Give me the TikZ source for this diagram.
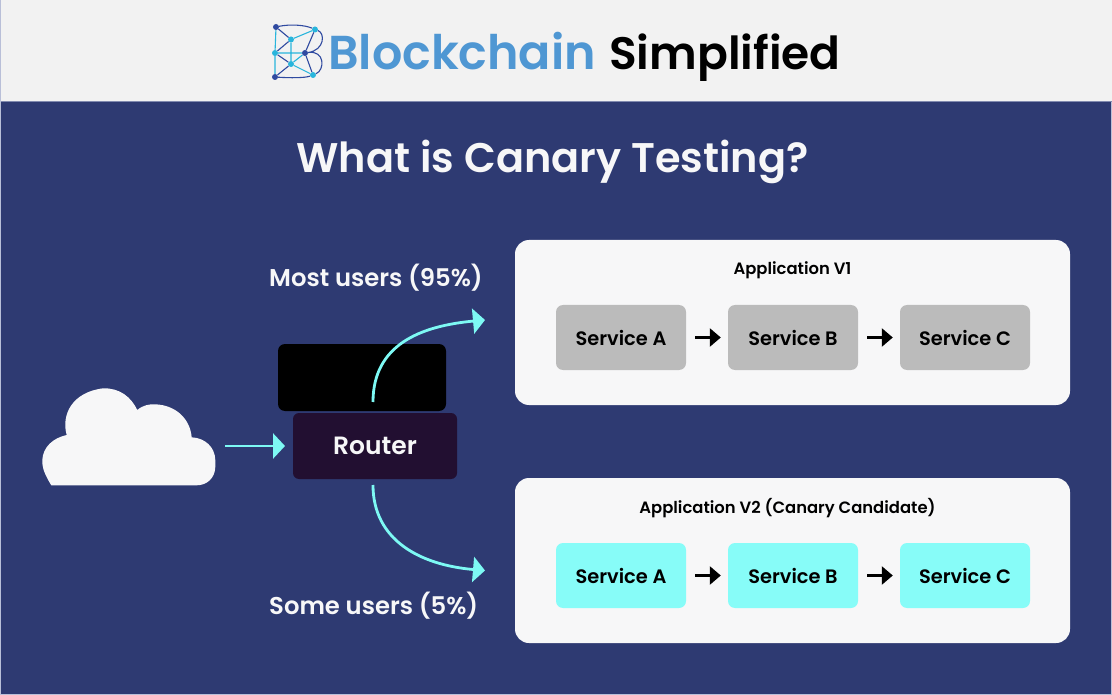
\documentclass[tikz,border=0pt]{standalone}
\usepackage{fontspec}
\setmainfont{Poppins}
\newfontfamily\popsemi{Poppins SemiBold}
\usetikzlibrary{arrows.meta}
\definecolor{bgblue}{HTML}{2E3A72}
\definecolor{headgray}{HTML}{F2F2F2}
\definecolor{framelilac}{HTML}{B9BFD8}
\definecolor{panelwhite}{HTML}{F7F7F8}
\definecolor{aqua}{HTML}{7DF9F4}
\definecolor{svcgray}{HTML}{BBBBBB}
\definecolor{svcaqua}{HTML}{87FCF8}
\definecolor{routerpurple}{HTML}{220F31}
\definecolor{logoblue}{HTML}{4F97D3}
\definecolor{logodark}{HTML}{2F4AA0}
\definecolor{logocyan}{HTML}{29B5DC}
\tikzset{
  x=1pt,y=-1pt,
  panelbox/.style={fill=panelwhite,rounded corners=14pt,minimum width=555pt,minimum height=165pt,inner sep=0pt},
  svcbox/.style={rounded corners=7pt,minimum width=130pt,minimum height=65pt,inner sep=0pt,text=black,font=\popsemi\fontsize{19.4}{21}\selectfont},
  v1box/.style={svcbox,fill=svcgray},
  v2box/.style={svcbox,fill=svcaqua},
  paneltitle/.style={text=black,font=\popsemi\fontsize{16.4}{18}\selectfont,inner sep=0pt},
  userlabel/.style={text=panelwhite,font=\popsemi\fontsize{24.3}{26}\selectfont,inner sep=0pt},
  aquaarrow/.style={draw=aqua,line width=2.8pt,-{Triangle[length=12pt,width=25pt]}},
  blackarrow/.style={draw=black,line width=2.6pt,-{Triangle[length=11pt,width=18pt]}},
  logoline/.style={draw=logocyan,line width=1.1pt},
  logodarkline/.style={draw=logodark,line width=1.1pt},
  logodot/.style={circle,inner sep=0pt,minimum size=6pt},
}
\begin{document}
\begin{tikzpicture}
\useasboundingbox (0,0) rectangle (1112,695);
\fill[bgblue] (0,0) rectangle (1112,695);
\fill[headgray] (0,0) rectangle (1112,101);
\fill[framelilac] (0,0) rectangle (1,695);
\fill[framelilac] (1111,101) rectangle (1112,695);
\fill[framelilac] (0,694) rectangle (1112,695);
\fill[framelilac!60!bgblue] (1,101) rectangle (1112,102);
% logo
\node[logodot,fill=logodark] (l1) at (276,27) {};
\node[logodot,fill=logocyan] (l2) at (315,29.5) {};
\node[logodot,fill=logocyan] (l3) at (291,39.5) {};
\node[logodot,fill=logocyan] (l4) at (275,53) {};
\node[logodot,fill=logodark] (l5) at (305,53) {};
\node[logodot,fill=logocyan] (l6) at (291,64) {};
\node[logodot,fill=logodark] (l7) at (275,77) {};
\node[logodot,fill=logocyan] (l8) at (313,75) {};
\draw[logodarkline] (l1) -- (l3) (l3) -- (l4) (l4) -- (l6) (l6) -- (l7) (l5) -- (l2) (l5) -- (l8);
\draw[logoline] (l1) -- (l4) (l4) -- (l7) (l3) -- (l2) (l3) -- (l6) (l6) -- (l5) (l4) -- (l5) (l6) -- (l8);
\draw[logodarkline] (l1) .. controls (290,24) and (305,25) .. (l2) .. controls (325,33) and (325,50) .. (l5) .. controls (325,50) and (325,70) .. (l8) .. controls (305,78) and (290,78) .. (l7);
\node[anchor=base west,inner sep=0pt,text=logoblue,font=\popsemi\fontsize{47.6}{52}\selectfont] (brand) at (328,70) {Blockchain};
\node[anchor=base west,inner sep=0pt,text=black,font=\popsemi\fontsize{45.5}{52}\selectfont] (brand2) at (609,70) {Simplified};
% title
\node[anchor=base,inner sep=0pt,text=panelwhite,font=\popsemi\fontsize{41.4}{46}\selectfont] (title) at (552.5,173) {What is Canary Testing?};
% cloud
\fill[panelwhite] (51.3,485.3) .. controls (45,475) and (42,468) .. (42.3,460) .. controls (43,447) and (53,438) .. (66.7,435)
  .. controls (61,415) and (72,392) .. (103.3,388.3) .. controls (120,388) and (131,397) .. (137.3,410)
  .. controls (143,405) and (150,404) .. (155,404.3) .. controls (175,405) and (190,418) .. (191.7,437.3)
  .. controls (205,438) and (215,447) .. (215.3,460) -- (215.3,467) .. controls (215,478) and (207,485.3) .. (196.7,485.3) -- cycle;
\coordinate (cloudout) at (225,446);
% boxes
\node[fill=black,rounded corners=7pt,minimum width=168pt,minimum height=67pt,inner sep=0pt] (masked) at (362,377.5) {};
\node[fill=routerpurple,rounded corners=6pt,minimum width=164pt,minimum height=66pt,inner sep=0pt,text=panelwhite,font=\popsemi\fontsize{25}{27}\selectfont] (router) at (375,446) {Router};
\node[panelbox] (app1) at (792.5,322.5) {};
\node[panelbox] (app2) at (792.5,560.5) {};
\node[paneltitle] (t1) at (792.5,270.5) {Application V1};
\node[paneltitle] (t2) at (787.5,508.5) {Application V2 (Canary Candidate)};
\node[v1box] (a1) at (621,337.5) {Service A};
\node[v1box] (b1) at (793,337.5) {Service B};
\node[v1box] (c1) at (965,337.5) {Service C};
\node[v2box] (a2) at (621,575.5) {Service A};
\node[v2box] (b2) at (793,575.5) {Service B};
\node[v2box] (c2) at (965,575.5) {Service C};
\draw[blackarrow] ([xshift=9pt]a1.east) -- ([xshift=-7pt]b1.west);
\draw[blackarrow] ([xshift=9pt]b1.east) -- ([xshift=-7pt]c1.west);
\draw[blackarrow] ([xshift=9pt]a2.east) -- ([xshift=-7pt]b2.west);
\draw[blackarrow] ([xshift=9pt]b2.east) -- ([xshift=-7pt]c2.west);
% labels
\node[userlabel,anchor=base west] (most) at (269,287) {Most users (95\%)};
\node[userlabel,anchor=base west] (some) at (269,614) {Some users (5\%)};
% connectors
\coordinate (up1) at (373,402);
\coordinate (up2) at (485,320);
\coordinate (dn1) at (373,485);
\coordinate (dn2) at (485,570.5);
\draw[aquaarrow] (cloudout) -- (router.west -| 285,446);
\draw[aquaarrow] (up1) .. controls (373,345) and (420,326) .. (up2);
\draw[aquaarrow] (dn1) .. controls (373,540) and (420,565) .. (dn2);
\end{tikzpicture}
\end{document}
